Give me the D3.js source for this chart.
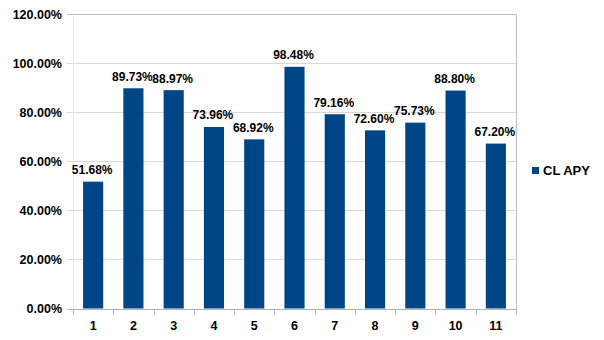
<!DOCTYPE html>
<html>
<head>
<meta charset="utf-8">
<script src="https://cdn.jsdelivr.net/npm/d3@7"></script>
<style>
  html, body { margin: 0; padding: 0; background: #fff; }
  svg { display: block; }
  text { font-family: "Liberation Sans", Arial, sans-serif; font-weight: bold; fill: #000; }
</style>
</head>
<body>
<svg id="chart" width="604" height="340"></svg>
<script>
// Categories and series values
const categories = ["1", "2", "3", "4", "5", "6", "7", "8", "9", "10", "11"];
const apyValues = [51.68, 89.73, 88.97, 73.96, 68.92, 98.48, 79.16, 72.60, 75.73, 88.80, 67.20];
const yTicks = [0, 20, 40, 60, 80, 100, 120];
const seriesName = "CL APY";

const barColor = "#004586";
const svg = d3.select("#chart");

const plot = { left: 73, right: 516, top: 14, bottom: 308.5 };

const x = d3.scaleBand()
  .domain(categories)
  .range([plot.left, plot.right])
  .paddingInner(0.5)
  .paddingOuter(0.25);

const y = d3.scaleLinear()
  .domain([0, 120])
  .range([plot.bottom, plot.top]);

// Horizontal gridlines with short outer ticks on the left
const grid = svg.append("g");
grid.selectAll("line.grid")
  .data(yTicks.filter(t => t > 0 && t < 120))
  .join("line")
  .attr("x1", plot.left - 6)
  .attr("x2", plot.right)
  .attr("y1", d => Math.round(y(d)) + 0.5)
  .attr("y2", d => Math.round(y(d)) + 0.5)
  .attr("stroke", "#d9d9d9");

// Left plot edge (faint)
svg.append("line")
  .attr("x1", plot.left + 0.5).attr("x2", plot.left + 0.5)
  .attr("y1", y(120) + 2).attr("y2", plot.bottom)
  .attr("stroke", "#ececec");

// Top gridline and right border
svg.append("line")
  .attr("x1", plot.left - 6).attr("x2", plot.right)
  .attr("y1", Math.round(y(120)) + 0.5).attr("y2", Math.round(y(120)) + 0.5)
  .attr("stroke", "#c0c0c0");
svg.append("line")
  .attr("x1", plot.right + 0.5).attr("x2", plot.right + 0.5)
  .attr("y1", Math.round(y(120))).attr("y2", plot.bottom + 4)
  .attr("stroke", "#c0c0c0");

// Y axis labels
svg.append("g")
  .selectAll("text")
  .data(yTicks)
  .join("text")
  .attr("x", 62)
  .attr("y", d => y(d) + 4.5)
  .attr("text-anchor", "end")
  .style("font-size", "12.5px")
  .text(d => d3.format(".2f")(d) + "%");

// Bars
svg.append("g")
  .selectAll("rect")
  .data(apyValues)
  .join("rect")
  .attr("x", (d, i) => x(categories[i]))
  .attr("width", x.bandwidth())
  .attr("y", d => y(d))
  .attr("height", d => y(0) - y(d))
  .attr("fill", barColor);

// Value labels
svg.append("g")
  .selectAll("text")
  .data(apyValues)
  .join("text")
  .attr("x", (d, i) => x(categories[i]) + x.bandwidth() / 2 - 1)
  .attr("y", d => y(d) - 7.5)
  .attr("text-anchor", "middle")
  .style("font-size", "12px")
  .text(d => d3.format(".2f")(d) + "%");

// Bottom axis with ticks between categories
const step = x.step();
const xAxisY = Math.round(plot.bottom) + 0.5;
svg.append("line")
  .attr("x1", plot.left - 6).attr("x2", plot.right)
  .attr("y1", xAxisY).attr("y2", xAxisY)
  .attr("stroke", "#b3b3b3");
svg.append("g")
  .selectAll("line")
  .data(d3.range(categories.length + 1))
  .join("line")
  .attr("x1", i => Math.round(plot.left + i * step) + 0.5)
  .attr("x2", i => Math.round(plot.left + i * step) + 0.5)
  .attr("y1", xAxisY)
  .attr("y2", xAxisY + 5)
  .attr("stroke", "#b3b3b3");
svg.append("g")
  .selectAll("text")
  .data(categories)
  .join("text")
  .attr("x", d => x(d) + x.bandwidth() / 2)
  .attr("y", 330)
  .attr("text-anchor", "middle")
  .style("font-size", "12.5px")
  .text(d => d);

// Legend
const legend = svg.append("g").attr("transform", "translate(532,167)");
legend.append("rect").attr("width", 7).attr("height", 7).attr("fill", barColor);
legend.append("text")
  .attr("x", 11).attr("y", 8)
  .style("font-size", "13px")
  .text(seriesName);
</script>
</body>
</html>
